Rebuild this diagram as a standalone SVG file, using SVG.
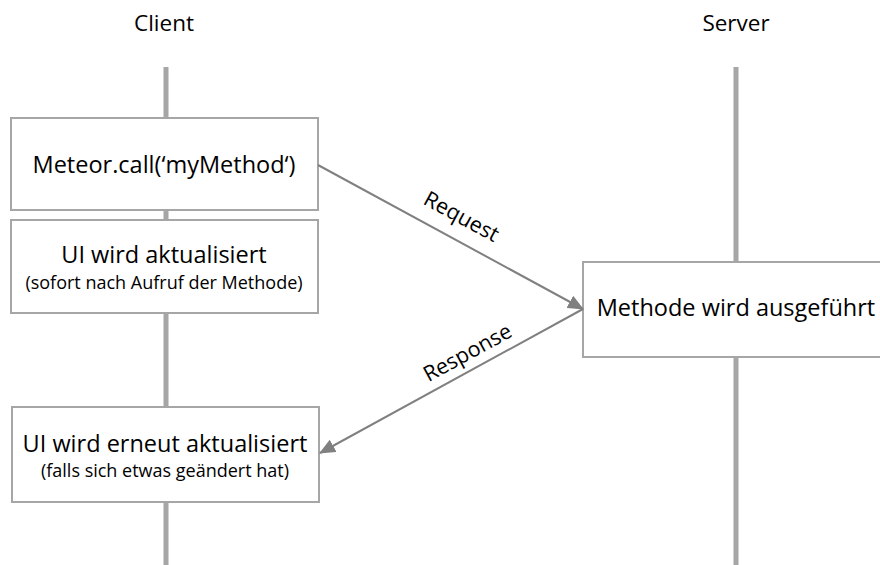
<svg xmlns="http://www.w3.org/2000/svg" width="880" height="565" viewBox="0 0 880 565">
<style>
text{font-family:"Open Sans","Liberation Sans",sans-serif;fill:#000;text-anchor:middle}
.title{font-size:22.5px}
.main{font-size:23.5px}
.sub{font-size:18px}
.lbl{font-size:21.5px}
.box{fill:#fff;stroke:#a6a6a6;stroke-width:2}
.life{stroke:#a6a6a6;stroke-width:5}
.msg{stroke:#808080;stroke-width:2;fill:none}
</style>
<defs>
<marker id="ah2" markerWidth="16" markerHeight="14" refX="15" refY="7" orient="auto" markerUnits="userSpaceOnUse" viewBox="0 0 16 14">
<path d="M0,0 L16,7 L0,14 z" fill="#808080"/>
</marker>
</defs>
<g id="lifelines">
<text class="title" x="164" y="31">Client</text>
<text class="title" x="736" y="31">Server</text>
<line class="life" x1="166" y1="67" x2="166" y2="565"/>
<line class="life" x1="736" y1="67" x2="736" y2="565"/>
</g>
<g id="n-call">
<rect class="box" x="11" y="118" width="307" height="92"/>
<text class="main" x="164" y="173">Meteor.call(‘myMethod‘)</text>
</g>
<g id="n-ui1">
<rect class="box" x="11" y="220" width="307" height="93"/>
<text class="main" x="164" y="263">UI wird aktualisiert</text>
<text class="sub" x="164" y="289">(sofort nach Aufruf der Methode)</text>
</g>
<g id="n-ui2">
<rect class="box" x="12" y="407" width="307" height="95"/>
<text class="main" x="165" y="452">UI wird erneut aktualisiert</text>
<text class="sub" x="165" y="477">(falls sich etwas geändert hat)</text>
</g>
<g id="n-server">
<rect class="box" x="583" y="262" width="300" height="95"/>
<text class="main" x="736" y="316">Methode wird ausgeführt</text>
</g>
<g id="connectors">
<line class="msg" x1="318" y1="165" x2="583" y2="309" marker-end="url(#ah2)"/>
<line class="msg" x1="583" y1="309" x2="320" y2="453" marker-end="url(#ah2)"/>
<text class="lbl" transform="translate(458,223) rotate(28.5)">Request</text>
<text class="lbl" transform="translate(471,359) rotate(-28.7)">Response</text>
</g>
</svg>
